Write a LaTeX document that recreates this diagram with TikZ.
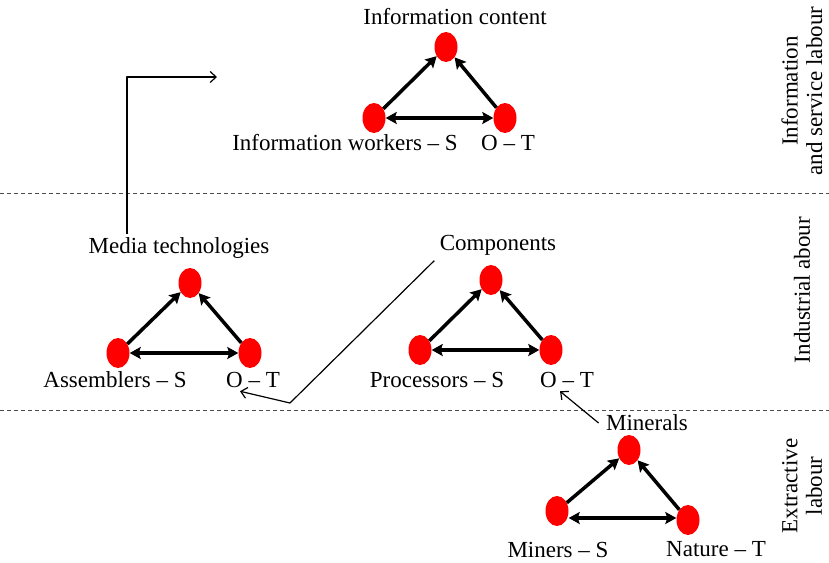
\documentclass[tikz,border=0pt]{standalone}
\usepackage{fontspec}
\setmainfont{Liberation Serif}
\usetikzlibrary{shapes.geometric,arrows.meta}
\begin{document}
\begin{tikzpicture}[x=1pt,y=-1pt,font=\fontsize{23}{26}\selectfont,line join=round,
	dot/.style={ellipse,fill=red,minimum width=23pt,minimum height=30pt,inner sep=0pt},
	link/.style={line width=3.5pt,-{Stealth[length=11pt,width=12pt,inset=2pt]}},
	both/.style={line width=3.5pt,{Stealth[length=11pt,width=12pt,inset=2pt]}-{Stealth[length=11pt,width=12pt,inset=2pt]}},
	pointer/.style={line width=1.2pt,-{Straight Barb[length=6pt,width=11pt]}},
	sep/.style={dash pattern=on 4pt off 3pt,line width=0.9pt,black!70}]
	\useasboundingbox (0,0) rectangle (829,562);
	% separators
	\draw[sep] (0,193)--(829,193) (0,410)--(829,410);
	% labour levels
	\node[rotate=90,align=center,inner sep=0pt,font=\fontsize{23}{24.5}\selectfont] (infoZ) at (802,91) {Information\\and service labour};
	\node[rotate=90,inner sep=0pt] (mediaZ) at (802,290) {Industrial abour};
	\node[rotate=90,align=center,inner sep=0pt,font=\fontsize{23}{24.5}\selectfont] (mineZ) at (802,486) {Extractive\\labour};
	% dots
	\node[dot] (infoT) at (446,47) {};  \node[dot] (infoS) at (374,118) {};  \node[dot] (infoO) at (505,118) {};
	\node[dot] (mediaT) at (190,283) {}; \node[dot] (mediaS) at (118,353) {}; \node[dot] (mediaO) at (250,353) {};
	\node[dot] (compT) at (491,280) {};  \node[dot] (compS) at (420,350) {};  \node[dot] (compO) at (551,350) {};
	\node[dot] (mineT) at (629,450) {};  \node[dot] (mineS) at (557,511) {};  \node[dot] (mineO) at (688,520) {};
	\foreach \t in {info,media,comp,mine}{
		\draw[link] (\t S) -- (\t T);
		\draw[link] (\t O) -- (\t T);
	}
	\foreach \t in {info,media,comp}
		\draw[both] (\t S) -- (\t O);
	\draw[both] ([yshift=-7pt]mineS.east) -- ([yshift=2pt]mineO.west);
	% texts
	\node (infoTtxt) at (455,17) {Information content};
	\node (infoStxt) at (345,143) {Information workers -- S};
	\node (infoOtxt) at (508,143) {O -- T};
	\node (mediaTtxt) at (179,248) {Media technologies};
	\node (mediaStxt) at (115,380) {Assemblers -- S};
	\node (mediaOtxt) at (253,380) {O -- T};
	\node (compTtxt) at (498,245) {Components};
	\node (compStxt) at (437,380) {Processors -- S};
	\node (compOtxt) at (567,380) {O -- T};
	\node (mineTtxt) at (647,423) {Minerals};
	\node (mineStxt) at (558,550) {Miners -- S};
	\node (mineOtxt) at (716,549) {Nature -- T};
	% flows between levels
	\coordinate (up) at (217,77);
	\coordinate (bend) at (290,403);
	\draw[pointer] ([xshift=-52pt]mediaTtxt.north) |- (up);
	\draw[pointer] ([xshift=-2pt,yshift=-2pt]compTtxt.south west) -- (bend) -- ([xshift=-13pt]mediaOtxt.south);
	\draw[pointer] ([xshift=-4pt]mineTtxt.west) -- ([xshift=-7pt]compOtxt.south);
\end{tikzpicture}
\end{document}
